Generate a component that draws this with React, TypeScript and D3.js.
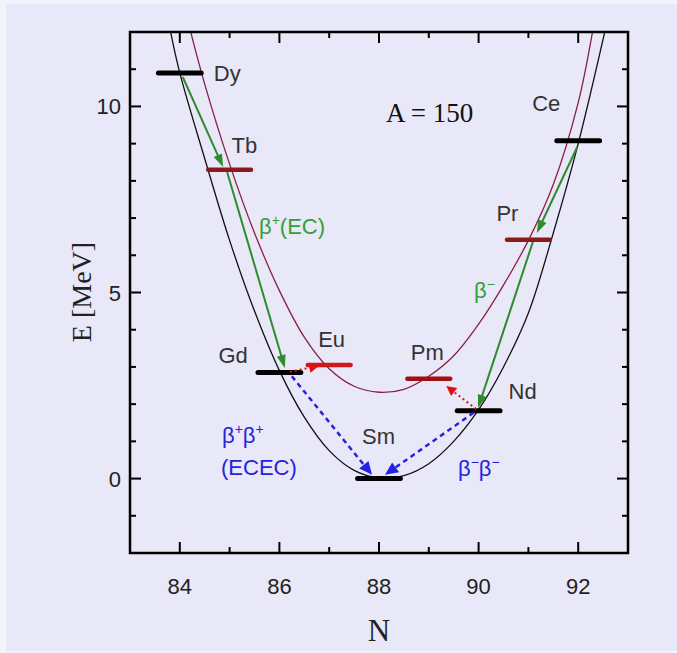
import React from "react";
import * as d3 from "d3";

// ---- data ----
const evenNames = ["Dy", "Gd", "Sm", "Nd", "Ce"];
const evenN = [84, 86, 88, 90, 92];
const evenE = [10.9, 2.85, 0.0, 1.82, 9.08];

const oddNames = ["Tb", "Eu", "Pm", "Pr"];
const oddN = [85, 87, 89, 91];
const oddE = [8.3, 3.05, 2.68, 6.42];
const oddColors = ["#8B1A1A", "#D01818", "#A01010", "#8B1A1A"];

// even-even mass parabola (black)
const blackCurveN = [83.8, 84, 84.5, 85, 85.5, 86, 86.5, 87, 87.5, 88, 88.5, 89, 89.5, 90, 90.5, 91, 91.5, 92, 92.55];
const blackCurveE = [12.1, 10.9, 8.6, 6.4, 4.5, 2.9, 1.65, 0.75, 0.22, 0.02, 0.08, 0.4, 1.0, 1.85, 3.0, 4.45, 6.6, 9.0, 12.1];

// odd-odd mass parabola (dark red)
const redCurveN = [84.2, 84.5, 85, 85.5, 86, 86.5, 87, 87.5, 88, 88.5, 89, 89.5, 90, 90.5, 91, 91.5, 92, 92.3];
const redCurveE = [12.1, 10.6, 8.45, 6.6, 5.05, 3.8, 2.95, 2.48, 2.32, 2.4, 2.75, 3.3, 4.15, 5.2, 6.4, 7.9, 10.1, 12.1];

// decay arrows: [fromN, fromE, toN, toE]
const greenArrows = [
  [84.06, 10.79, 84.87, 8.37],
  [84.95, 8.24, 86.11, 2.97],
  [91.98, 8.91, 91.17, 6.6],
  [91.09, 6.36, 89.99, 1.9],
];
const blueArrows = [
  [86.25, 2.75, 87.86, 0.1],
  [89.9, 1.77, 88.12, 0.1],
];
const redArrows = [
  [86.21, 2.87, 86.8, 3.03],
  [89.95, 1.87, 89.35, 2.49],
];

const xMajorTicks = [84, 86, 88, 90, 92];
const xMinorTicks = [85, 87, 89, 91];
const yMajorTicks = [0, 5, 10];
const yMinorTicks = [-1, 1, 2, 3, 4, 6, 7, 8, 9, 11];

// label placement (pixel offsets from bar centre) – layout only
const labelOffsets: Record<string, [number, number]> = {
  Dy: [34, 8],
  Tb: [2, -17],
  Eu: [-11, -18],
  Pm: [-18, -19],
  Pr: [-32, -19],
  Ce: [-46, -30],
  Gd: [-61, -10],
  Nd: [30, -12],
  Sm: [-17, -35],
};

const W = 677;
const H = 653;
const L = 130, R = 628, T = 32, B = 553;

export default function App() {
  const x = d3.scaleLinear().domain([83, 93]).range([L, R]);
  const y = d3.scaleLinear().domain([-2, 12]).range([B, T]);

  const line = d3
    .line<[number, number]>()
    .x((d) => x(d[0]))
    .y((d) => y(d[1]))
    .curve(d3.curveCatmullRom.alpha(0.5));

  const blackPts = blackCurveN.map((n, i) => [n, blackCurveE[i]] as [number, number]);
  const redPts = redCurveN.map((n, i) => [n, redCurveE[i]] as [number, number]);

  const arrow = (a: number[], color: string, dash: string | undefined, width: number, headL: number, headW: number, key: string) => {
    const x1 = x(a[0]), y1 = y(a[1]), x2 = x(a[2]), y2 = y(a[3]);
    const dx = x2 - x1, dy = y2 - y1;
    const len = Math.hypot(dx, dy);
    const ux = dx / len, uy = dy / len;
    const bx = x2 - ux * headL, by = y2 - uy * headL;
    const px = -uy, py = ux;
    const head = `M${x2},${y2}L${bx + px * headW},${by + py * headW}L${bx - px * headW},${by - py * headW}Z`;
    return (
      <g key={key}>
        <line x1={x1} y1={y1} x2={bx + ux * 2} y2={by + uy * 2} stroke={color} strokeWidth={width} strokeDasharray={dash} />
        <path d={head} fill={color} />
      </g>
    );
  };

  const sansFont = "'Liberation Sans', Arial, sans-serif";
  const serifFont = "'Liberation Serif', 'Times New Roman', serif";
  const halfBar = 0.43;
  const fs = 22;

  return (
    <svg width={W} height={H} style={{ position: "absolute", left: 0, top: 0 }}>
      <defs>
        <clipPath id="plotclip">
          <rect x={L} y={T} width={R - L} height={B - T} />
        </clipPath>
      </defs>
      <rect x={0} y={0} width={W} height={H} fill="#F3F3FC" />
      <rect x={6} y={4} width={W - 6} height={H - 6} fill="#E8E8F8" />

      {/* curves */}
      <g clipPath="url(#plotclip)" fill="none">
        <path d={line(redPts) || ""} stroke="#8B2040" strokeWidth={1.3} />
        <path d={line(blackPts) || ""} stroke="#111" strokeWidth={1.3} />
      </g>

      {/* green arrows */}
      {greenArrows.map((a, i) => arrow(a, "#2E8B2E", undefined, 2, 13, 4.5, "g" + i))}

      {/* bars */}
      {evenN.map((n, i) => (
        <line key={"e" + i} x1={x(n - halfBar)} x2={x(n + halfBar)} y1={y(evenE[i])} y2={y(evenE[i])}
          stroke="#000" strokeWidth={5} strokeLinecap="round" />
      ))}
      {oddN.map((n, i) => (
        <line key={"o" + i} x1={x(n - halfBar)} x2={x(n + halfBar)} y1={y(oddE[i])} y2={y(oddE[i])}
          stroke={oddColors[i]} strokeWidth={4.5} strokeLinecap="round" />
      ))}

      {/* blue dashed and red dotted arrows */}
      {blueArrows.map((a, i) => arrow(a, "#2424E0", "5,4", 2.5, 13, 6, "b" + i))}
      {redArrows.map((a, i) => arrow(a, "#E01010", "2,3", 2, 10, 5, "r" + i))}

      {/* element labels */}
      {evenNames.map((nm, i) => (
        <text key={"le" + i} x={x(evenN[i]) + labelOffsets[nm][0]} y={y(evenE[i]) + labelOffsets[nm][1]}
          fontFamily={sansFont} fontSize={fs} fill="#333">{nm}</text>
      ))}
      {oddNames.map((nm, i) => (
        <text key={"lo" + i} x={x(oddN[i]) + labelOffsets[nm][0]} y={y(oddE[i]) + labelOffsets[nm][1]}
          fontFamily={sansFont} fontSize={fs} fill="#333">{nm}</text>
      ))}

      {/* decay mode labels */}
      <text x={259} y={234} fontFamily={sansFont} fontSize={fs} fill="#33A033">
        β<tspan fontSize={14} dy={-9}>+</tspan><tspan dy={9}>(EC)</tspan>
      </text>
      <text x={474} y={298} fontFamily={sansFont} fontSize={fs} fill="#33A033">
        β<tspan fontSize={14} dy={-9}>−</tspan>
      </text>
      <text x={222} y={443} fontFamily={sansFont} fontSize={fs} fill="#2424E0">
        β<tspan fontSize={14} dy={-9}>+</tspan><tspan dy={9}>β</tspan><tspan fontSize={14} dy={-9}>+</tspan>
      </text>
      <text x={221} y={475} fontFamily={sansFont} fontSize={fs} fill="#2424E0">(ECEC)</text>
      <text x={458} y={476} fontFamily={sansFont} fontSize={fs} fill="#2424E0">
        β<tspan fontSize={14} dy={-9}>−</tspan><tspan dy={9}>β</tspan><tspan fontSize={14} dy={-9}>−</tspan>
      </text>

      <text x={386} y={122} fontFamily={serifFont} fontSize={27} fill="#111">A = 150</text>

      {/* frame */}
      <rect x={L} y={T} width={R - L} height={B - T} fill="none" stroke="#000" strokeWidth={2.5} />

      {/* ticks */}
      {xMajorTicks.map((t) => (
        <g key={"xM" + t}>
          <line x1={x(t)} x2={x(t)} y1={B} y2={B - 11} stroke="#000" strokeWidth={2} />
          <line x1={x(t)} x2={x(t)} y1={T} y2={T + 11} stroke="#000" strokeWidth={2} />
          <text x={x(t)} y={594} textAnchor="middle" fontFamily={sansFont} fontSize={fs} fill="#222">{t}</text>
        </g>
      ))}
      {xMinorTicks.map((t) => (
        <g key={"xm" + t}>
          <line x1={x(t)} x2={x(t)} y1={B} y2={B - 6} stroke="#000" strokeWidth={2} />
          <line x1={x(t)} x2={x(t)} y1={T} y2={T + 6} stroke="#000" strokeWidth={2} />
        </g>
      ))}
      {yMajorTicks.map((t) => (
        <g key={"yM" + t}>
          <line x1={L} x2={L + 11} y1={y(t)} y2={y(t)} stroke="#000" strokeWidth={2} />
          <line x1={R} x2={R - 11} y1={y(t)} y2={y(t)} stroke="#000" strokeWidth={2} />
          <text x={121} y={y(t) + 8} textAnchor="end" fontFamily={sansFont} fontSize={fs} fill="#222">{t}</text>
        </g>
      ))}
      {yMinorTicks.map((t) => (
        <g key={"ym" + t}>
          <line x1={L} x2={L + 6} y1={y(t)} y2={y(t)} stroke="#000" strokeWidth={2} />
          <line x1={R} x2={R - 6} y1={y(t)} y2={y(t)} stroke="#000" strokeWidth={2} />
        </g>
      ))}

      {/* axis titles */}
      <text x={379} y={641} textAnchor="middle" fontFamily={serifFont} fontSize={31} fill="#222">N</text>
      <text transform={`translate(91,292) rotate(-90)`} textAnchor="middle" fontFamily={serifFont} fontSize={28} fill="#222">E [MeV]</text>
    </svg>
  );
}
